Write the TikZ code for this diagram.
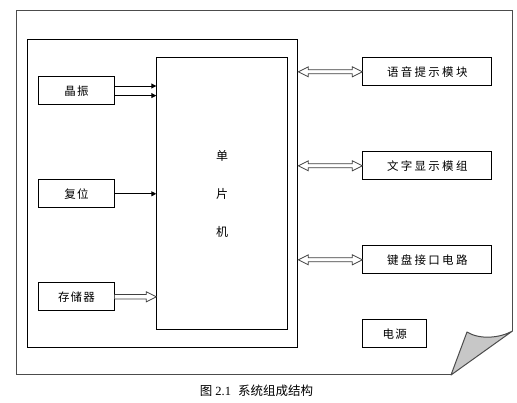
\documentclass[tikz,border=0pt]{standalone}
\usepackage{fontspec}
\setmainfont{Liberation Serif}
\newfontfamily\cjk{Noto Sans CJK SC}
\newfontfamily\cjkwide[LetterSpace=20]{Noto Sans CJK SC}
\newfontfamily\cjkmid[LetterSpace=10]{Noto Sans CJK SC}
\usetikzlibrary{arrows.meta,calc}
\tikzset{
  box/.style={draw, line width=1pt, inner sep=0pt, anchor=north west},
  lbox/.style={box, minimum width=75.4pt, minimum height=28pt, font=\cjkmid\fontsize{11.5}{13}\selectfont},
  rbox/.style={box, minimum width=129pt, minimum height=28pt, font=\cjkwide\fontsize{11.5}{13}\selectfont},
  sig/.style={line width=0.9pt, -{Triangle[length=5pt,width=5pt]}},
  hollow/.style={draw=black!75, fill=white, line width=0.8pt, line join=miter},
  page/.style={draw=black!70, line width=1pt},
}
\newcommand\hollowdouble[2]{%
  \draw[hollow] (#1) -- ([xshift=10pt,yshift=5pt]#1) -- ([xshift=10pt,yshift=2pt]#1)
   -- ([xshift=-10pt,yshift=2pt]#2) -- ([xshift=-10pt,yshift=5pt]#2) -- (#2)
   -- ([xshift=-10pt,yshift=-5pt]#2) -- ([xshift=-10pt,yshift=-2pt]#2)
   -- ([xshift=10pt,yshift=-2pt]#1) -- ([xshift=10pt,yshift=-5pt]#1) -- cycle;}
\newcommand\hollowsingle[2]{%
  \draw[hollow] ([yshift=2.2pt]#1) -- ([xshift=-10pt,yshift=2.2pt]#2) -- ([xshift=-10pt,yshift=5pt]#2)
   -- (#2) -- ([xshift=-10pt,yshift=-5pt]#2) -- ([xshift=-10pt,yshift=-2.2pt]#2) -- ([yshift=-2.2pt]#1);}
\begin{document}
\begin{tikzpicture}[x=1pt,y=-1pt]
\useasboundingbox (0,0) rectangle (517,403);
% page with curled corner
\draw[page] (451,375) -- (16.3,375) -- (16.3,10.3) -- (512.5,10.3) -- (512.5,331);
\draw[page, fill=black!22, line join=round] (451,375) -- (467,332) .. controls (480,340) and (500,338) .. (512.5,331) -- cycle;
% boxes
\node[box, minimum width=270pt, minimum height=308pt] (outer) at (27.3,39.3) {};
\node[box, minimum width=130.4pt, minimum height=272pt] (mcu) at (156.3,57.3) {};
\node[font=\cjk\fontsize{12}{38}\selectfont, align=center] (mcutext) at (mcu.center) {单\\片\\机};
\node[lbox] (xz) at (38.3,76.3) {晶振};
\node[lbox] (fw) at (38.3,179.3) {复位};
\node[lbox] (mem) at (38.3,282.3) {存储器};
\node[rbox] (voice) at (362.3,57.3) {语音提示模块};
\node[rbox] (disp) at (362.3,151.3) {文字显示模组};
\node[rbox] (kbd) at (362.3,245.3) {键盘接口电路};
\node[box, minimum width=64pt, minimum height=28pt, font=\cjkmid\fontsize{11.5}{13}\selectfont] (pwr) at (362.3,319.3) {电源};
% signals
\draw[sig] ([yshift=4.8pt]xz.east) -- ([yshift=4.8pt]xz.east -| mcu.west);
\draw[sig] ([yshift=-4.8pt]xz.east) -- ([yshift=-4.8pt]xz.east -| mcu.west);
\draw[sig] (fw.east) -- (fw.east -| mcu.west);
\coordinate (m1) at (mem.east);
\coordinate (m2) at (mem.east -| mcu.west);
\hollowsingle{m1}{m2}
\coordinate (v1) at (outer.east |- voice.west);
\coordinate (d1) at (outer.east |- disp.west);
\coordinate (k1) at (outer.east |- kbd.west);
\coordinate (v2) at (voice.west);
\coordinate (d2) at (disp.west);
\coordinate (k2) at (kbd.west);
\hollowdouble{v1}{v2}
\hollowdouble{d1}{d2}
\hollowdouble{k1}{k2}
% caption
\node[font=\fontsize{12.5}{14}\selectfont] (cap) at (256.5,391) {{\cjk 图}\hspace{3pt}2.1\hspace{7pt}{\cjk 系统组成结构}};
\end{tikzpicture}
\end{document}
